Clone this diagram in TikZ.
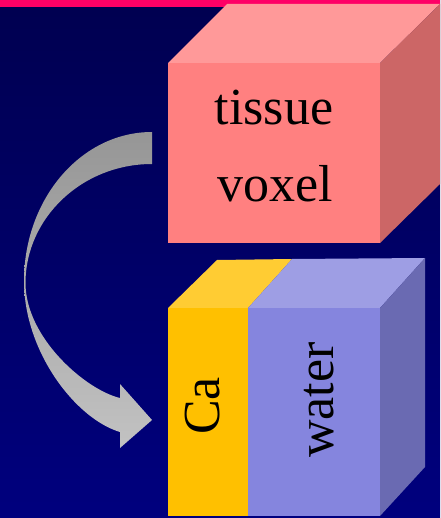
\documentclass[tikz,border=0pt]{standalone}
\usepackage{fontspec}
\setmainfont{Liberation Serif}
\begin{document}
\begin{tikzpicture}[x=1pt,y=-1pt,
  lbl/.style={font=\fontsize{52}{60}\selectfont, text=black, inner sep=0pt},
]
\definecolor{bgtop}{RGB}{0,0,80}
\definecolor{bgbot}{RGB}{0,0,126}
\definecolor{barpink}{RGB}{255,0,102}
\definecolor{tfront}{RGB}{255,128,128}
\definecolor{ttop}{RGB}{255,153,153}
\definecolor{tside}{RGB}{204,102,102}
\definecolor{cafront}{RGB}{255,192,0}
\definecolor{catop}{RGB}{255,204,51}
\definecolor{wfront}{RGB}{133,133,222}
\definecolor{wtop}{RGB}{158,158,228}
\definecolor{wside}{RGB}{106,106,178}
\definecolor{arrtop}{RGB}{150,150,150}
\definecolor{arrbot}{RGB}{194,194,194}

% background
\useasboundingbox (0,0) rectangle (440,518);
\shade[top color=bgtop, bottom color=bgbot] (0,0) rectangle (440,518);
\fill[barpink] (0,0) rectangle (440,7);

% tissue voxel cube
\fill[ttop] (168,63) -- (227,4) -- (440,4) -- (380,63) -- cycle;
\fill[tside] (380,63) -- (440,4) -- (440,184) -- (380,243) -- cycle;
\fill[tfront] (168,63) rectangle (380,243);
\node[lbl, anchor=base] (tissue) at (274,125) {tissue};
\node[lbl, anchor=base] (voxel) at (275,202) {voxel};

% split cube: Ca and water
\fill[catop] (168,308) -- (217,260) -- (292,259) -- (248,308) -- cycle;
\fill[wtop] (248,308) -- (292,259) -- (425,258) -- (380,308) -- cycle;
\fill[wside] (380,308) -- (425,258) -- (425,467) -- (380,516) -- cycle;
\fill[cafront] (168,308) rectangle (248,516);
\fill[wfront] (248,308) rectangle (380,516);
\node[lbl, rotate=90] (ca) at (203,406) {Ca};
\node[lbl, rotate=90] (water) at (319,400) {water};

% curved block arrow
\coordinate (tail) at (152,132);
\coordinate (tip) at (152,420);
\shade[top color=arrtop, bottom color=arrbot]
  (tail) .. controls (81,132) and (24,199) .. (24,281)
  .. controls (24,352) and (76,419) .. (120,432)
  -- (120,448) -- (tip) -- (120,384) -- (120,398)
  .. controls (86,390) and (25.5,338) .. (25.5,283)
  .. controls (25.5,218) and (82,164) .. (152,164)
  -- cycle;
\end{tikzpicture}
\end{document}
